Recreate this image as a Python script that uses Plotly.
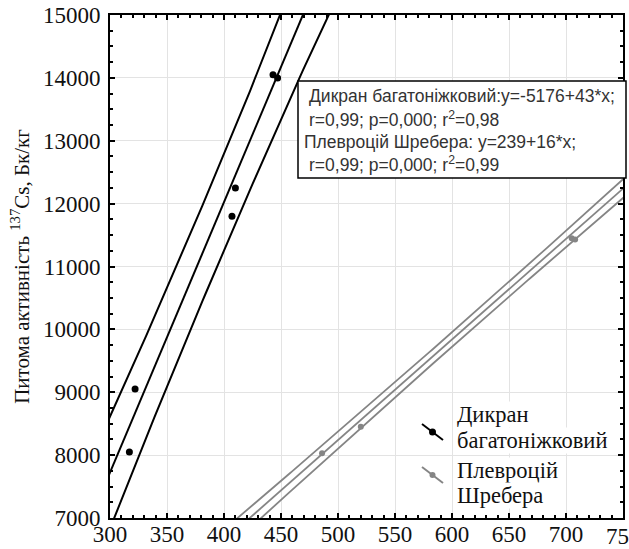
import numpy as np
import plotly.graph_objects as go

# ---- data ----
dik_x = [317, 322, 407, 410, 443, 447]
dik_y = [8050, 9050, 11800, 12250, 14050, 14000]
dik_a, dik_b = -5176, 43          # y = a + b*x (stated on chart)
dik_band_min, dik_band_x0, dik_band_k = 760, 385, 28.0   # band half-width params (read)

ple_x = [486, 520, 705, 708]
ple_y = [8030, 8450, 11450, 11430]
ple_a, ple_b = 239, 16
ple_band_min, ple_band_x0, ple_band_k = 115, 605, 0.40

x_ticks = [300, 350, 400, 450, 500, 550, 600, 650, 700, 750]
y_ticks = [7000, 8000, 9000, 10000, 11000, 12000, 13000, 14000, 15000]

eq_lines = [
    "Дикран багатоніжковий:y=-5176+43*x;",
    "r=0,99; p=0,000; r<sup>2</sup>=0,98",
    "Плевроцій Шребера: y=239+16*x;",
    "r=0,99; p=0,000; r<sup>2</sup>=0,99",
]
legend_names = [["Дикран", "багатоніжковий"], ["Плевроцій", "Шребера"]]

# ---- figure ----
W, H = 629, 549
ML, MR, MT, MB = 110, 6, 15, 31
PW, PH = W - ML - MR, H - MT - MB

def px2paper(px, py):
    return (px - ML) / PW, (H - MB - py) / PH

xs = np.linspace(280, 770, 200)

def band(a, b, hmin, x0, k):
    c = a + b * xs
    h = np.sqrt(hmin ** 2 + k * (xs - x0) ** 2)
    return c, c + h, c - h

fig = go.Figure()
c, u, l = band(dik_a, dik_b, dik_band_min, dik_band_x0, dik_band_k)
for yy in (u, c, l):
    fig.add_trace(go.Scatter(x=xs, y=yy, mode="lines",
                             line=dict(color="black", width=2), showlegend=False))
fig.add_trace(go.Scatter(x=dik_x, y=dik_y, mode="markers",
                         marker=dict(color="black", size=7), showlegend=False))

gc, gu, gl = band(ple_a, ple_b, ple_band_min, ple_band_x0, ple_band_k)
for yy in (gu, gc, gl):
    fig.add_trace(go.Scatter(x=xs, y=yy, mode="lines",
                             line=dict(color="#858585", width=1.8), showlegend=False))
fig.add_trace(go.Scatter(x=ple_x, y=ple_y, mode="markers",
                         marker=dict(color="#858585", size=6), showlegend=False))

serif = "Liberation Serif, Times New Roman, serif"
sans = "Liberation Sans, Arial, sans-serif"
tick_font = dict(family=serif, size=23, color="#111")

axis_common = dict(
    showline=True, linecolor="black", linewidth=2, mirror="ticks",
    ticks="inside", ticklen=5, tickcolor="black", tickwidth=1.5,
    showgrid=True, gridcolor="#e3e3e3", gridwidth=1, zeroline=False,
    tickfont=tick_font, automargin=False,
)

fig.update_xaxes(range=[300, 750], tickvals=x_ticks,
                 ticktext=[str(v) for v in x_ticks], ticklabelstandoff=-6,
                 minor=dict(dtick=10, ticks="inside", ticklen=3, tickcolor="black",
                            showgrid=False),
                 **axis_common)
fig.update_yaxes(range=[7000, 15000], tickvals=y_ticks,
                 ticktext=[str(v) for v in y_ticks], ticklabelstandoff=3,
                 minor=dict(dtick=250, ticks="inside", ticklen=3, tickcolor="black",
                            showgrid=False),
                 title=dict(text="Питома активність <sup>137</sup>Cs, Бк/кг",
                            font=dict(family=serif, size=21, color="#111"), standoff=8),
                 **axis_common)

# last x tick label (runs past the right edge, as in the reference)
fig.add_annotation(text=str(x_ticks[-1]), xref="x", yref="paper", x=x_ticks[-1], y=0,
                   xanchor="center", yanchor="top", yshift=-4, showarrow=False,
                   font=tick_font)

# equation box
bx0, by1 = px2paper(298, 81)
bx1, by0 = px2paper(626, 178)
fig.add_shape(type="rect", xref="paper", yref="paper",
              x0=bx0, x1=bx1, y0=by0, y1=by1,
              line=dict(color="black", width=1.5), fillcolor="white", layer="above")
eq_px = [(307, 96), (307, 119), (302, 142), (307, 164)]
for txt, (ex, ey) in zip(eq_lines, eq_px):
    qx, qy = px2paper(ex, ey)
    fig.add_annotation(text=txt, xref="paper", yref="paper", x=qx, y=qy,
                       xanchor="left", yanchor="middle", showarrow=False,
                       font=dict(family=sans, size=17.5, color="#333"))

# manual legend (symbols drawn as slanted segments like the reference)
leg = [
    ("black", 7, (422, 424, 443, 440), (415, 440)),
    ("#858585", 6, (422, 467, 443, 483), (470, 495)),
]
for (col, ms, seg, ty), names in zip(leg, legend_names):
    x0, y0 = px2paper(seg[0], seg[1])
    x1, y1 = px2paper(seg[2], seg[3])
    fig.add_shape(type="rect", xref="paper", yref="paper",
                  x0=x0 - 0.01, x1=x1 + 0.01, y0=y1 - 0.01, y1=y0 + 0.01,
                  line=dict(width=0), fillcolor="white", layer="above")
    fig.add_shape(type="line", xref="paper", yref="paper",
                  x0=x0, y0=y0, x1=x1, y1=y1,
                  line=dict(color=col, width=2), layer="above")
    cx, cy = (x0 + x1) / 2, (y0 + y1) / 2
    rx, ry = ms / 2 / PW, ms / 2 / PH
    fig.add_shape(type="circle", xref="paper", yref="paper",
                  x0=cx - rx, x1=cx + rx, y0=cy - ry, y1=cy + ry,
                  line=dict(color=col, width=0), fillcolor=col, layer="above")
    for name, tyy in zip(names, ty):
        qx, qy = px2paper(456, tyy)
        fig.add_annotation(text=name, xref="paper", yref="paper", x=qx, y=qy,
                           xanchor="left", yanchor="middle", align="left",
                           showarrow=False, bgcolor="white", borderpad=0,
                           font=dict(family=serif, size=22.5, color="#111"))

fig.update_layout(
    width=W, height=H,
    margin=dict(l=ML, r=MR, t=MT, b=MB),
    paper_bgcolor="white", plot_bgcolor="white",
    showlegend=False,
)

fig.write_html("out.html")
